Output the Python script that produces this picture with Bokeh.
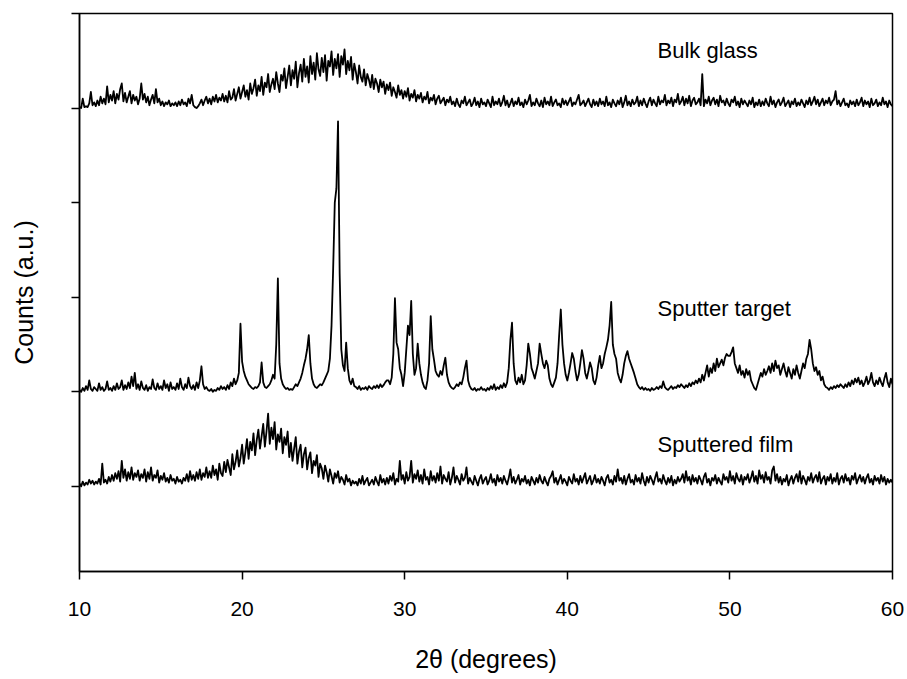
import numpy as np
from bokeh.plotting import figure
from bokeh.models import FixedTicker, Label, Range1d
from bokeh.embed import file_html
from bokeh.resources import INLINE

# 2-theta scan: 10.0 .. 60.0 deg, step 0.1 deg
scan_start = 10.0
scan_step = 0.1

# intensities (a.u., 100 = one y-tick spacing)
bulk_glass = [
    1, 0, 10, 1, 2, 1, 5, 17, 3, 6,
    2, 8, 3, 12, 5, 10, 4, 23, 6, 14,
    8, 18, 5, 15, 9, 20, 26, 7, 16, 6,
    12, 18, 5, 14, 8, 12, 4, 10, 26, 9,
    15, 6, 12, 3, 9, 14, 5, 20, 6, 10,
    3, 7, 2, 6, 4, 8, 2, 5, 3, 6,
    2, 7, 3, 9, 4, 6, 2, 10, 5, 14,
    3, 1, 0, 2, 5, 9, 3, 8, 12, 5,
    10, 4, 12, 7, 14, 6, 11, 8, 15, 7,
    13, 6, 18, 9, 11, 20, 8, 15, 22, 10,
    17, 24, 12, 19, 9, 26, 15, 21, 30, 13,
    24, 18, 33, 14, 27, 22, 36, 17, 25, 31,
    20, 38, 26, 17, 35, 29, 42, 21, 33, 45,
    24, 40, 31, 49, 22, 37, 46, 28, 52, 33,
    44, 27, 55, 36, 48, 30, 58, 41, 34, 53,
    38, 56, 29, 50, 44, 60, 35, 52, 42, 57,
    33, 55, 46, 62, 36, 50, 40, 54, 30, 47,
    38, 26, 45, 33, 28, 41, 24, 36, 30, 22,
    35, 20, 31, 26, 17, 30, 22, 28, 15, 25,
    19, 27, 13, 22, 17, 11, 24, 14, 19, 10,
    18, 12, 21, 8, 15, 11, 19, 7, 14, 10,
    16, 6, 12, 9, 17, 5, 11, 8, 14, 4,
    10, 13, 5, 8, 11, 3, 9, 6, 12, 4,
    7, 2, 10, 4, 1, 8, 5, 12, 3, 6,
    9, 2, 5, 11, 3, 7, 1, 10, 4, 6,
    2, 9, 5, 1, 12, 3, 7, 4, 10, 2,
    6, 13, 3, 8, 1, 5, 10, 2, 7, 4,
    11, 3, 6, 1, 9, 4, 8, 14, 2, 6,
    3, 10, 5, 2, 8, 1, 11, 4, 7, 3,
    12, 2, 6, 9, 3, 5, 1, 10, 4, 8,
    3, 7, 11, 2, 6, 4, 9, 14, 3, 5,
    8, 2, 6, 10, 4, 1, 9, 3, 7, 2,
    10, 4, 7, 2, 12, 3, 6, 1, 9, 5,
    2, 8, 4, 11, 1, 6, 13, 3, 7, 2,
    9, 4, 6, 12, 2, 8, 3, 10, 5, 1,
    7, 11, 3, 9, 5, 2, 12, 4, 8, 6,
    14, 3, 8, 5, 11, 2, 9, 6, 15, 4,
    7, 12, 3, 10, 5, 13, 2, 8, 11, 4,
    6, 10, 3, 36, 2, 9, 5, 12, 3, 8,
    11, 4, 9, 2, 13, 6, 8, 3, 10, 5,
    2, 9, 6, 12, 3, 7, 1, 10, 4, 8,
    5, 2, 8, 4, 11, 1, 6, 3, 9, 2,
    7, 3, 10, 5, 2, 12, 4, 8, 1, 6,
    9, 3, 6, 11, 2, 5, 8, 1, 7, 4,
    10, 2, 6, 3, 9, 5, 1, 8, 4, 11,
    3, 7, 12, 4, 9, 2, 6, 10, 3, 8,
    5, 11, 3, 7, 9, 18, 4, 8, 2, 6,
    10, 3, 5, 1, 8, 4, 7, 2, 9, 3,
    6, 11, 2, 8, 4, 7, 1, 10, 3, 5,
    9, 2, 6, 3, 11, 4, 7, 1, 8, 4,
    2,
]

sputter_target = [
    2, 0, 4, 1, 6, 2, 12, 3, 1, 5,
    3, 1, 9, 2, 5, 1, 3, 11, 2, 4,
    1, 6, 2, 9, 3, 5, 12, 2, 7, 3,
    10, 4, 16, 6, 20, 3, 8, 2, 11, 4,
    2, 7, 1, 5, 3, 13, 4, 2, 9, 3,
    6, 2, 12, 4, 8, 1, 10, 3, 5, 2,
    9, 3, 14, 5, 2, 8, 4, 15, 6, 3,
    7, 2, 10, 4, 12, 27, 8, 3, 5, 2,
    1, 3, 0, 2, 1, 4, 2, 6, 3, 5,
    2, 7, 3, 10, 6, 14, 8, 12, 20, 72,
    32, 22, 16, 12, 8, 6, 4, 3, 5, 4,
    6, 10, 31, 10, 5, 4, 6, 8, 12, 18,
    14, 50, 120, 30, 14, 8, 5, 3, 4, 2,
    3, 2, 5, 8, 6, 10, 14, 20, 28, 35,
    45, 60, 30, 14, 8, 5, 4, 6, 8, 7,
    10, 14, 18, 22, 35, 70, 130, 200, 215, 286,
    125, 45, 28, 22, 52, 25, 12, 8, 14, 6,
    5, 3, 6, 2, 4, 3, 5, 2, 6, 4,
    3, 6, 4, 7, 4, 8, 5, 7, 10, 12,
    12, 8, 15, 40, 99, 52, 45, 25, 18, 6,
    20, 45, 70, 60, 96, 40, 18, 25, 51, 30,
    18, 10, 5, 3, 12, 30, 80, 45, 34, 22,
    18, 16, 22, 18, 28, 36, 18, 10, 6, 4,
    3, 5, 8, 6, 10, 8, 15, 25, 33, 12,
    6, 3, 2, 4, 1, 3, 2, 5, 2, 3,
    1, 4, 2, 6, 3, 8, 2, 5, 3, 7,
    4, 9, 5, 10, 25, 55, 73, 30, 12, 8,
    15, 10, 18, 8, 12, 28, 51, 40, 25, 20,
    14, 22, 30, 51, 40, 30, 25, 33, 28, 14,
    8, 5, 10, 15, 30, 60, 87, 50, 30, 18,
    12, 20, 30, 41, 35, 22, 12, 18, 30, 44,
    35, 20, 14, 22, 31, 25, 12, 8, 15, 28,
    38, 25, 30, 40, 47, 55, 70, 95, 50, 40,
    35, 20, 14, 10, 18, 30, 38, 43, 35, 30,
    25, 20, 14, 8, 5, 3, 5, 2, 4, 2,
    3, 1, 4, 2, 3, 5, 3, 6, 4, 11,
    5, 3, 2, 4, 6, 3, 5, 4, 7, 5,
    8, 6, 4, 7, 5, 9, 6, 10, 8, 12,
    9, 14, 10, 18, 12, 20, 28, 16, 25, 20,
    30, 22, 35, 26, 30, 34, 28, 36, 40, 38,
    38, 42, 47, 30, 25, 20, 28, 18, 22, 15,
    24, 18, 22, 12, 8, 4, 2, 8, 14, 20,
    16, 24, 18, 22, 27, 20, 30, 22, 33, 25,
    28, 18, 24, 30, 22, 16, 26, 20, 14, 24,
    18, 28, 20, 14, 22, 30, 25, 35, 40, 55,
    45, 30, 22, 26, 18, 22, 12, 16, 8, 5,
    4, 2, 5, 3, 6, 4, 7, 5, 8, 6,
    4, 8, 5, 10, 6, 12, 8, 14, 10, 15,
    8, 12, 6, 10, 16, 8, 12, 20, 10, 6,
    12, 8, 15, 10, 6, 14, 20, 10, 5, 14,
    8,
]

sputtered_film = [
    3, 0, 5, 1, 4, 2, 7, 3, 6, 2,
    5, 3, 8, 2, 24, 4, 7, 3, 10, 5,
    12, 6, 14, 8, 16, 5, 27, 9, 18, 6,
    15, 8, 20, 7, 14, 10, 17, 6, 13, 9,
    18, 5, 15, 8, 20, 6, 12, 9, 17, 4,
    11, 7, 14, 5, 9, 4, 12, 6, 8, 3,
    10, 5, 7, 3, 9, 6, 13, 5, 16, 7,
    12, 6, 15, 8, 18, 7, 14, 10, 20, 9,
    16, 9, 22, 12, 18, 7, 24, 14, 11, 26,
    15, 28, 20, 12, 34, 18, 26, 38, 21, 30,
    44, 24, 36, 50, 29, 47, 38, 56, 33, 49,
    60, 40, 53, 66, 42, 58, 77, 45, 62, 50,
    68, 39, 55, 47, 61, 35, 52, 44, 58, 31,
    46, 27, 40, 52, 24, 37, 44, 20, 34, 41,
    18, 30, 36, 14, 27, 22, 33, 10, 24, 19,
    8, 22, 15, 5, 18, 11, 3, 14, 9, 16,
    4, 10, 7, 2, 12, 5, 8, 1, 6, 3,
    5, 1, 8, 3, 11, 2, 6, 9, 1, 4,
    7, 2, 10, 5, 1, 12, 4, 8, 2, 9,
    3, 11, 6, 14, 2, 8, 5, 27, 7, 12,
    3, 15, 6, 10, 27, 4, 13, 8, 17, 5,
    12, 3, 18, 7, 10, 2, 16, 6, 11, 4,
    14, 6, 21, 3, 12, 8, 5, 15, 2, 9,
    20, 4, 11, 7, 2, 13, 6, 9, 20, 3,
    9, 5, 2, 11, 6, 1, 8, 12, 3, 7,
    10, 2, 6, 13, 4, 8, 1, 12, 5, 9,
    3, 11, 6, 2, 9, 18, 4, 10, 3, 7,
    12, 2, 8, 5, 11, 3, 7, 1, 10, 6,
    2, 9, 4, 12, 6, 3, 10, 5, 1, 8,
    11, 16, 4, 9, 2, 7, 12, 3, 8, 5,
    1, 10, 6, 3, 13, 5, 8, 2, 11, 4,
    9, 14, 3, 7, 11, 2, 6, 12, 4, 8,
    3, 10, 6, 1, 9, 12, 4, 7, 2, 11,
    5, 18, 6, 9, 3, 11, 2, 8, 13, 4,
    7, 2, 12, 5, 9, 3, 14, 6, 1, 10,
    4, 11, 7, 2, 9, 15, 5, 8, 3, 12,
    6, 2, 9, 4, 11, 1, 7, 3, 10, 5,
    8, 13, 4, 16, 6, 10, 2, 12, 5, 9,
    3, 11, 7, 2, 10, 14, 4, 8, 1, 9,
    6, 12, 3, 9, 5, 2, 13, 7, 10, 4,
    16, 6, 11, 3, 14, 8, 5, 12, 2, 10,
    7, 13, 4, 9, 16, 5, 11, 3, 17, 8,
    12, 4, 15, 7, 10, 3, 17, 21, 6, 13,
    4, 10, 2, 8, 5, 12, 1, 7, 11, 3,
    9, 13, 5, 16, 3, 11, 7, 2, 10, 6,
    14, 4, 9, 12, 5, 15, 3, 8, 11, 2,
    10, 6, 13, 3, 9, 5, 14, 2, 8, 11,
    4, 13, 6, 9, 2, 11, 7, 14, 3, 8,
    12, 5, 10, 3, 9, 13, 4, 8, 2, 11,
    6, 9, 3, 12, 5, 10, 2, 8, 4, 7,
    4,
]

series_names = ["Bulk glass", "Sputter target", "Sputtered film"]
series_offsets = [400, 100, 0]
x_ticks = [10, 20, 30, 40, 50, 60]
y_ticks = [0, 100, 200, 300, 400, 500]

assert len(bulk_glass) == 501, len(bulk_glass)
assert len(sputter_target) == 501, len(sputter_target)
assert len(sputtered_film) == 501, len(sputtered_film)

two_theta = np.round(scan_start + scan_step * np.arange(len(bulk_glass)), 1)

FONT = "Liberation Sans"

p = figure(
    width=905, height=675,
    x_range=Range1d(10, 60), y_range=Range1d(-90, 500),
    output_backend="svg", toolbar_location=None,
    min_border_left=79, min_border_right=13, min_border_top=13, min_border_bottom=95,
    background_fill_color="white", border_fill_color="white",
)
p.grid.visible = False
p.outline_line_color = "black"
p.outline_line_width = 1.5

for vals, off in zip([bulk_glass, sputter_target, sputtered_film], series_offsets):
    p.line(two_theta, np.array(vals) + off, line_color="black", line_width=1.8,
           line_join="round")

# x axis
p.xaxis.ticker = FixedTicker(ticks=x_ticks, minor_ticks=[])
p.xaxis.axis_label = "2\u03b8 (degrees)"
p.xaxis.axis_label_text_font = FONT
p.xaxis.axis_label_text_font_size = "25px"
p.xaxis.axis_label_text_font_style = "normal"
p.xaxis.axis_label_text_color = "black"
p.xaxis.axis_label_standoff = 26
p.xaxis.major_label_text_font = FONT
p.xaxis.major_label_text_font_size = "21px"
p.xaxis.major_label_text_color = "black"
p.xaxis.major_label_standoff = 22
p.xaxis.major_tick_out = 8
p.xaxis.major_tick_in = 0
p.xaxis.minor_tick_out = 0
p.xaxis.minor_tick_in = 0
p.xaxis.axis_line_width = 1.5
p.xaxis.major_tick_line_width = 1.5

# y axis (no tick labels)
p.yaxis.ticker = FixedTicker(ticks=y_ticks, minor_ticks=[])
p.yaxis.major_label_overrides = {t: "" for t in y_ticks}
p.yaxis.major_label_standoff = 0
p.yaxis.axis_label = "Counts (a.u.)"
p.yaxis.axis_label_text_font = FONT
p.yaxis.axis_label_text_font_size = "25px"
p.yaxis.axis_label_text_font_style = "normal"
p.yaxis.axis_label_text_color = "black"
p.yaxis.axis_label_standoff = 34
p.yaxis.major_tick_out = 8
p.yaxis.major_tick_in = 0
p.yaxis.minor_tick_out = 0
p.yaxis.minor_tick_in = 0
p.yaxis.axis_line_width = 1.5
p.yaxis.major_tick_line_width = 1.5

label_pos = [(45.55, 461), (45.55, 188), (45.55, 44)]
for name, (lx, ly) in zip(series_names, label_pos):
    p.add_layout(Label(x=lx, y=ly, text=name, text_font=FONT, text_font_size="22px",
                       text_align="left", text_baseline="middle", text_color="black"))

open("out.html", "w").write(file_html(p, INLINE))
